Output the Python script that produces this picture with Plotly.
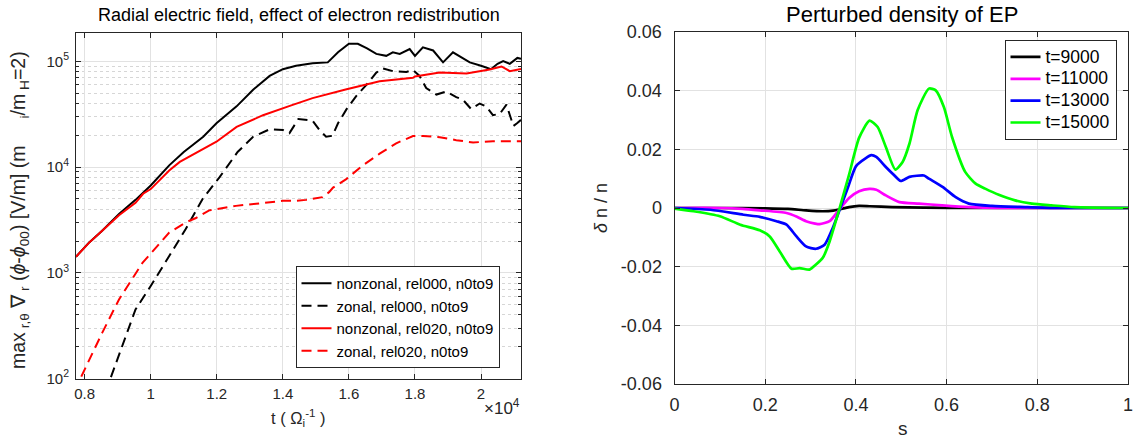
import plotly.graph_objects as go

W, H = 1134, 439
def px(x): return x / W
def py(y): return 1 - y / H

# ---------------- Left panel data (t in units of Omega_i^-1) ----------------
t_nz000 = [7738, 8130, 8530, 9040, 9540, 10000, 10560, 11000, 11590, 11990, 12600,
           13100, 13600, 14000, 14400, 14900, 15360, 15670, 16000, 16270, 16550, 16830,
           17130, 17330, 17540, 17840, 18000, 18240, 18550, 18850, 19150, 19400, 19660,
           20000, 20300, 20500, 20670, 20870, 21100, 21210]
e_nz000 = [1420, 1930, 2500, 3600, 4900, 6700, 10400, 13900, 19400, 26000, 37600,
           54000, 73000, 84500, 91000, 96000, 98000, 122000, 147000, 147000, 133000, 118000,
           113000, 122000, 118000, 131000, 113000, 136000, 127000, 98000, 122000, 109000, 98000,
           91000, 84500, 95000, 101000, 95000, 108000, 106000]

t_z000 = [8600, 8780, 9540, 10000, 10560, 11060, 11570, 12080, 12630, 13100, 13600, 14000,
          14200, 14470, 14900, 15110, 15310, 15500, 15670, 15920, 16220, 16530, 16830, 17030,
          17330, 17740, 17940, 18140, 18340, 18650, 18950, 19250, 19450, 19700, 19960, 20160,
          20360, 20570, 20770, 20980, 21090, 21210]
e_z000 = [75, 100, 450, 750, 1440, 2600, 5000, 8000, 13900, 19400, 22800, 22500,
          21000, 28500, 27500, 22400, 19400, 19800, 26000, 35000, 47000, 60000, 78500, 86000,
          81000, 79500, 83000, 73000, 56000, 48600, 52000, 46000, 43500, 35500, 40000, 37500,
          31000, 32000, 39000, 24500, 26000, 28000]

t_nz020 = [7738, 8130, 8530, 9040, 9540, 9770, 10000, 10560, 10880, 11420, 11990, 12600,
           13400, 14210, 14900, 15900, 16930, 17940, 18000, 18750, 19560, 20260, 20620,
           20870, 21210]
e_nz020 = [1420, 1920, 2500, 3500, 4600, 5600, 6200, 9300, 11200, 13900, 17400, 24000,
           31000, 38000, 45000, 54300, 65000, 70000, 72000, 78500, 77000, 84000, 89600,
           81000, 85000]

t_z020 = [7738, 7870, 8530, 9040, 9750, 10200, 10560, 11060, 11370, 11770, 12580, 13190,
          14000, 14400, 14700, 15200, 15400, 15520, 15920, 16420, 16930, 17430, 17940, 18240,
          18750, 19250, 19760, 20360, 21210]
e_z020 = [75, 100, 270, 560, 1240, 1800, 2400, 3000, 3300, 3900, 4300, 4500,
          4800, 4800, 4900, 5200, 5800, 6400, 7700, 10400, 13400, 16800, 19700, 19700,
          19200, 18000, 17100, 17600, 17600]

left_names = ["nonzonal, rel000, n0to9", "zonal, rel000, n0to9",
              "nonzonal, rel020, n0to9", "zonal, rel020, n0to9"]

# ---------------- Right panel data ----------------
s_9000 = [0, 0.1, 0.2, 0.25, 0.29, 0.327, 0.35, 0.363, 0.385, 0.407, 0.43, 0.48, 0.55, 0.65, 1.0]
dn_9000 = [0, 0, -0.0001, -0.0003, -0.0008, -0.0011, -0.0009, -0.0005, 0.0003, 0.0007, 0.0006,
           0.0003, 0.0001, 0, 0]

s_11000 = [0, 0.1, 0.15, 0.188, 0.247, 0.27, 0.29, 0.31, 0.32, 0.342, 0.363, 0.385, 0.407, 0.43,
           0.445, 0.466, 0.496, 0.539, 0.59, 0.65, 0.715, 1.0]
dn_11000 = [0, 0, -0.0003, -0.0008, -0.0017, -0.003, -0.0045, -0.0053, -0.0055, -0.0045, -0.0006,
            0.0034, 0.0057, 0.0065, 0.0062, 0.0043, 0.002, 0.0015, 0.0009, 0.0003, 0, 0]

s_13000 = [0, 0.079, 0.152, 0.188, 0.225, 0.247, 0.269, 0.29, 0.312, 0.331, 0.349, 0.363, 0.382,
           0.4, 0.422, 0.434, 0.445, 0.466, 0.481, 0.499, 0.518, 0.55, 0.561, 0.591, 0.62, 0.649,
           0.7, 0.773, 0.846, 1.0]
dn_13000 = [0, -0.0006, -0.0023, -0.003, -0.0045, -0.0057, -0.0097, -0.0131, -0.0139, -0.0125,
            -0.0068, -0.0011, 0.0068, 0.0142, 0.017, 0.018, 0.0174, 0.014, 0.0117, 0.0092, 0.0106,
            0.0111, 0.01, 0.0072, 0.0037, 0.0015, 0.0007, 0.0003, 0, 0]

s_15000 = [0, 0.042, 0.1, 0.145, 0.188, 0.21, 0.232, 0.258, 0.276, 0.298, 0.312, 0.327, 0.342,
           0.363, 0.385, 0.407, 0.43, 0.448, 0.466, 0.487, 0.503, 0.518, 0.536, 0.561, 0.576,
           0.594, 0.612, 0.641, 0.664, 0.685, 0.715, 0.751, 0.788, 0.831, 0.882, 1.0]
dn_15000 = [-0.0002, -0.0011, -0.0028, -0.0057, -0.0076, -0.0097, -0.0148, -0.0207, -0.0205,
            -0.021, -0.0193, -0.017, -0.0114, -0.0006, 0.0114, 0.0239, 0.0298, 0.0276, 0.0208,
            0.0131, 0.0157, 0.0219, 0.0333, 0.0407, 0.0401, 0.0344, 0.0242, 0.0123, 0.0083,
            0.0066, 0.0045, 0.0026, 0.0015, 0.0009, 0.0003, 0]

right_names = ["t=9000", "t=11000", "t=13000", "t=15000"]

# ---------------- Tick labels ----------------
left_xticks = [8000, 10000, 12000, 14000, 16000, 18000, 20000]
left_xticktext = ["0.8", "1", "1.2", "1.4", "1.6", "1.8", "2"]
left_yticks = [1e2, 1e3, 1e4, 1e5]
left_yticktext = ["10<sup>2</sup>", "10<sup>3</sup>", "10<sup>4</sup>", "10<sup>5</sup>"]
right_xticks = [0, 0.2, 0.4, 0.6, 0.8, 1.0]
right_xticktext = ["0", "0.2", "0.4", "0.6", "0.8", "1"]
right_yticks = [-0.06, -0.04, -0.02, 0, 0.02, 0.04, 0.06]
right_yticktext = ["-0.06", "-0.04", "-0.02", "0", "0.02", "0.04", "0.06"]

minor_y = [k * 10 ** d for d in range(2, 6) for k in range(2, 10) if k * 10 ** d < 2e5]

AX = "#262626"
GRID = "#e2e2e2"
FONT = "Liberation Sans, Arial, sans-serif"

fig = go.Figure()

left_series = [(t_nz000, e_nz000, "#000000", None),
               (t_z000, e_z000, "#000000", "10px,6px"),
               (t_nz020, e_nz020, "#ff0000", None),
               (t_z020, e_z020, "#ff0000", "10px,6px")]
for (x, y, c, d), n in zip(left_series, left_names):
    fig.add_trace(go.Scatter(x=x, y=y, mode="lines", name=n,
                             line=dict(color=c, width=2, dash=d),
                             xaxis="x", yaxis="y", legend="legend"))

right_series = [(s_9000, dn_9000, "#000000"), (s_11000, dn_11000, "#ff00ff"),
                (s_13000, dn_13000, "#0000ff"), (s_15000, dn_15000, "#00ff00")]
for (x, y, c), n in zip(right_series, right_names):
    fig.add_trace(go.Scatter(x=x, y=y, mode="lines",
                             name='<span style="font-size:17.5px">' + n + '</span>',
                             line=dict(color=c, width=2.7, shape="spline", smoothing=0.6),
                             xaxis="x2", yaxis="y2", legend="legend2"))

common = dict(showline=True, linecolor=AX, linewidth=1, mirror="ticks", ticks="inside",
              ticklen=5, tickcolor=AX, tickwidth=1, showgrid=True, gridcolor=GRID,
              gridwidth=1, zeroline=False, automargin=False, ticklabeloverflow="allow")

fig.update_layout(
    width=W, height=H, margin=dict(l=0, r=0, t=0, b=0),
    paper_bgcolor="white", plot_bgcolor="white",
    font=dict(family=FONT, color=AX),
    showlegend=True,
    xaxis=dict(domain=[px(76), px(521)], range=[7738, 21210], anchor="y",
               tickvals=left_xticks, ticktext=left_xticktext,
               tickfont=dict(size=15, color=AX), ticklabelstandoff=1, **common),
    yaxis=dict(domain=[py(378.5), py(32.5)], type="log", range=[2, 5.274], anchor="x",
               tickvals=left_yticks, ticktext=left_yticktext,
               tickfont=dict(size=15, color=AX), ticklabelstandoff=3,
               minor=dict(tickvals=minor_y, showgrid=True, griddash="dot",
                          gridcolor="#d6d6d6", gridwidth=1, ticks="inside",
                          ticklen=3, tickcolor=AX),
               **common),
    xaxis2=dict(domain=[px(674.5), px(1128)], range=[0, 1], anchor="y2",
                tickvals=right_xticks, ticktext=right_xticktext,
                tickfont=dict(size=18, color=AX), ticklabelstandoff=4, **common),
    yaxis2=dict(domain=[py(384), py(32)], range=[-0.06, 0.06], anchor="x2",
                tickvals=right_yticks, ticktext=right_yticktext,
                tickfont=dict(size=18, color=AX), ticklabelstandoff=8, **common),
    legend=dict(x=px(397.5), y=py(266), xanchor="center", yanchor="top",
                bgcolor="white", bordercolor=AX, borderwidth=1,
                font=dict(size=15, color="#000000", family=FONT),
                itemwidth=30, tracegroupgap=0),
    legend2=dict(x=px(1060.5), y=py(40), xanchor="center", yanchor="top",
                 bgcolor="white", bordercolor=AX, borderwidth=1,
                 font=dict(size=14.5, color="#000000", family=FONT),
                 itemwidth=30, tracegroupgap=0),
)

ann = [
    dict(x=px(298.5), y=py(15), text="Radial electric field, effect of electron redistribution",
         font=dict(size=18, color="#000000")),
    dict(x=px(902), y=py(15), text="Perturbed density of EP",
         font=dict(size=22, color="#000000")),
    dict(x=px(298.5), y=py(418), text="t ( Ω<sub>i</sub><sup>-1</sup> )",
         font=dict(size=16.5, color=AX)),
    dict(x=px(522), y=py(407), text="×10<sup>4</sup>", xanchor="right",
         font=dict(size=17, color=AX)),
    dict(x=px(20), y=py(210), textangle=-90,
         text="max<sub> r,θ</sub> ∇<sub> r</sub> (<i>ϕ</i>-<i>ϕ</i><sub>00</sub>) [V/m] (m&nbsp;&nbsp;&nbsp;&nbsp;&nbsp;<sub>i</sub>/m<sub> H</sub>=2)",
         font=dict(size=19.5, color=AX)),
    dict(x=px(903), y=py(428), text="s", font=dict(size=19, color=AX)),
    dict(x=px(601), y=py(208), textangle=-90, text="<i>δ</i> n / n",
         font=dict(size=18, color=AX)),
]
for a in ann:
    a.setdefault("xanchor", "center")
    fig.add_annotation(xref="paper", yref="paper", yanchor="middle", showarrow=False, **a)

fig.write_html("out.html", post_script="document.body.style.margin='0px';",
               config={"displayModeBar": False})
